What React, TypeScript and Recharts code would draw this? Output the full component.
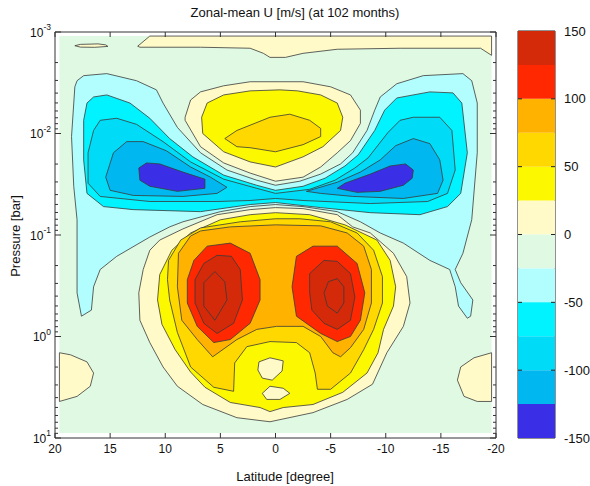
import React from "react";
import {
  ScatterChart,
  Scatter,
  XAxis,
  YAxis,
  BarChart,
  Bar,
  ReferenceArea,
} from "recharts";

const FONT = '"Liberation Sans", Arial, Helvetica, sans-serif';
const INK = "#333";

// axes: latitude in degrees, pressure as log10(bar)
const latTicks = [20, 15, 10, 5, 0, -5, -10, -15, -20];
const pressureDecades = [-3, -2, -1, 0, 1];
const minorSteps = [2, 3, 4, 5, 6, 7, 8, 9];
const colorTicks = [-150, -100, -50, 0, 50, 100, 150];

// contour bands: lower bound (m/s) -> fill
const bandLows = [-150, -125, -100, -75, -50, -25, 0, 25, 50, 75, 100, 125];
const bandColors = [
  "#3a2fe6", "#00b7ef", "#00dcf7", "#00f3ff", "#b2fefe", "#e0f9e2",
  "#fffac8", "#fcf800", "#ffd800", "#ffb300", "#ff2800", "#d42a0a",
];

// contour outlines, [latitude, log10 p]
const domainBox = [[19.6, -2.96], [-19.6, -2.96], [-19.6, 0.95], [19.6, 0.95]];
const topBand = [[12.5, -2.86], [11.4, -2.96], [-19.6, -2.96], [-19.6, -2.77], [-18.6, -2.84], [-11.3, -2.84], [-5.6, -2.83], [-2.5, -2.79], [-0.9, -2.75], [0.5, -2.75], [1.1, -2.79], [2.3, -2.84], [6.8, -2.85], [12.3, -2.85]];
const topIsland = [[18.2, -2.865], [17.7, -2.878], [16.1, -2.883], [15.4, -2.873], [15.2, -2.858], [16.4, -2.849], [17.7, -2.851]];

const upperPale = [[8.2, -2.16], [7.7, -2.33], [6.8, -2.41], [4.7, -2.47], [2.3, -2.51], [-0.4, -2.51], [-2.5, -2.51], [-5.0, -2.46], [-6.8, -2.38], [-7.7, -2.23], [-7.7, -2.1], [-6.8, -1.93], [-5.6, -1.81], [-4.1, -1.67], [-2.5, -1.57], [0.0, -1.53], [2.3, -1.61], [4.7, -1.71], [6.8, -1.87], [8.2, -2.13]];
const upperYellow = [[6.7, -2.16], [6.2, -2.3], [4.7, -2.38], [2.3, -2.42], [-0.4, -2.43], [-2.0, -2.42], [-4.1, -2.38], [-5.6, -2.3], [-6.1, -2.16], [-5.9, -2.03], [-4.3, -1.87], [-2.5, -1.77], [0.0, -1.67], [2.3, -1.72], [4.7, -1.82], [6.6, -2.0]];
const upperGold = [[4.6, -1.95], [3.5, -2.03], [0.5, -2.16], [-1.3, -2.19], [-3.1, -2.13], [-4.1, -2.05], [-4.1, -1.97], [-2.5, -1.89], [0.0, -1.82], [2.3, -1.86], [3.5, -1.87]];

const wingPale = [[18.0, -2.52], [17.4, -2.57], [15.3, -2.59], [12.6, -2.52], [10.8, -2.43], [10.2, -2.3], [8.9, -2.06], [6.8, -1.81], [4.4, -1.64], [1.7, -1.54], [0.0, -1.49], [-2.2, -1.53], [-4.1, -1.6], [-5.9, -1.7], [-7.0, -1.81], [-8.3, -2.03], [-9.0, -2.23], [-9.5, -2.36], [-11.0, -2.49], [-13.4, -2.57], [-17.0, -2.59], [-17.8, -2.52], [-18.3, -2.3], [-18.3, -1.81], [-17.8, -1.15], [-17.0, -0.82], [-16.3, -0.66], [-16.8, -0.53], [-17.9, -0.36], [-17.7, -0.2], [-17.4, -0.18], [-16.6, -0.3], [-16.3, -0.49], [-15.8, -0.66], [-14.0, -0.75], [-11.6, -0.92], [-9.5, -1.02], [-7.7, -1.13], [-5.6, -1.23], [-2.5, -1.28], [0.0, -1.3], [2.3, -1.28], [5.0, -1.23], [8.4, -1.13], [9.6, -1.08], [11.4, -0.98], [14.4, -0.79], [15.9, -0.66], [16.5, -0.49], [16.7, -0.26], [17.6, -0.2], [18.0, -0.43], [18.0, -1.15], [18.3, -1.48], [18.5, -1.97], [18.2, -2.46]];
const wingCyan = [[17.1, -2.3], [16.5, -2.36], [15.3, -2.38], [13.2, -2.3], [11.4, -2.15], [9.6, -1.95], [7.5, -1.77], [4.7, -1.59], [1.7, -1.49], [0.0, -1.44], [-2.5, -1.48], [-4.5, -1.56], [-6.3, -1.68], [-7.5, -1.79], [-9.0, -2.03], [-9.9, -2.23], [-11.0, -2.35], [-14.0, -2.41], [-16.1, -2.4], [-16.9, -2.3], [-17.4, -1.81], [-16.8, -1.41], [-15.6, -1.28], [-13.1, -1.2], [-8.6, -1.22], [-4.1, -1.27], [0.0, -1.32], [2.3, -1.3], [6.8, -1.23], [12.9, -1.25], [15.6, -1.28], [17.1, -1.41], [17.4, -1.74], [17.4, -2.13]];
const wingCyanDeep = [[16.5, -2.03], [15.9, -2.13], [14.4, -2.15], [12.6, -2.09], [10.2, -1.92], [7.7, -1.72], [4.7, -1.55], [1.7, -1.46], [0.0, -1.41], [-3.1, -1.45], [-5.4, -1.54], [-7.2, -1.66], [-8.4, -1.76], [-10.2, -2.01], [-11.3, -2.13], [-12.5, -2.16], [-14.9, -2.16], [-16.0, -2.03], [-16.3, -1.64], [-15.6, -1.41], [-13.8, -1.33], [-8.6, -1.31], [-2.5, -1.34], [0.0, -1.36], [2.3, -1.34], [5.3, -1.33], [11.4, -1.33], [15.9, -1.38], [17.0, -1.51], [17.0, -1.81]];
const blueLeft = [[15.4, -1.57], [14.7, -1.81], [13.5, -1.92], [12.0, -1.92], [9.9, -1.83], [7.7, -1.67], [5.9, -1.57], [4.4, -1.47], [5.3, -1.41], [8.4, -1.38], [12.9, -1.39], [15.0, -1.44]];
const blueRight = [[-2.8, -1.43], [-5.6, -1.52], [-7.7, -1.62], [-9.5, -1.74], [-10.9, -1.88], [-12.5, -1.95], [-14.0, -1.9], [-14.9, -1.74], [-15.2, -1.54], [-14.7, -1.41], [-11.6, -1.36], [-7.0, -1.38], [-4.1, -1.41]];
const coreLeft = [[12.4, -1.66], [11.7, -1.71], [10.5, -1.7], [8.4, -1.62], [6.4, -1.55], [6.4, -1.46], [8.9, -1.43], [11.4, -1.48], [12.3, -1.54]];
const coreRight = [[-5.6, -1.46], [-6.3, -1.51], [-8.6, -1.6], [-10.4, -1.68], [-11.8, -1.7], [-12.5, -1.64], [-12.4, -1.56], [-11.6, -1.49], [-9.5, -1.43], [-7.4, -1.42]];

const lowerPale = [[0.0, -1.27], [-2.5, -1.26], [-5.6, -1.2], [-7.0, -1.08], [-8.6, -1.02], [-10.7, -0.82], [-11.9, -0.59], [-12.2, -0.33], [-11.6, -0.1], [-10.1, 0.16], [-8.8, 0.47], [-6.5, 0.62], [-3.4, 0.75], [0.5, 0.84], [3.5, 0.8], [6.6, 0.67], [8.9, 0.49], [10.2, 0.3], [11.4, 0.06], [12.3, -0.16], [12.4, -0.43], [12.0, -0.66], [11.4, -0.85], [10.5, -0.95], [8.4, -1.06], [5.3, -1.2], [2.3, -1.25]];
const lowerYellow = [[0.0, -1.22], [-3.1, -1.2], [-6.3, -1.1], [-9.2, -0.95], [-10.4, -0.75], [-10.9, -0.49], [-10.7, -0.3], [-9.8, -0.07], [-9.3, 0.16], [-8.3, 0.36], [-6.1, 0.55], [-3.4, 0.67], [-0.7, 0.7], [0.5, 0.74], [1.4, 0.7], [4.1, 0.65], [6.4, 0.5], [7.7, 0.35], [9.1, 0.13], [10.3, -0.12], [10.7, -0.36], [10.5, -0.61], [9.4, -0.85], [7.7, -1.02], [5.0, -1.15], [2.3, -1.2]];
const lowerGold = [[0.0, -1.16], [-2.2, -1.16], [-5.0, -1.13], [-7.4, -1.02], [-8.9, -0.85], [-9.7, -0.59], [-9.7, -0.33], [-8.9, -0.07], [-8.0, 0.13], [-6.8, 0.36], [-5.0, 0.52], [-3.8, 0.52], [-3.6, 0.36], [-3.1, 0.16], [-1.9, 0.06], [0.5, 0.05], [2.6, 0.1], [3.7, 0.26], [3.8, 0.54], [5.6, 0.5], [7.7, 0.3], [8.9, -0.04], [9.6, -0.36], [9.8, -0.56], [9.7, -0.75], [8.6, -0.95], [6.8, -1.07], [3.2, -1.13]];
const lowerOrange = [[0.0, -1.1], [-4.1, -1.09], [-6.5, -1.02], [-8.0, -0.89], [-8.7, -0.66], [-8.7, -0.33], [-8.0, -0.07], [-6.8, 0.11], [-5.9, 0.2], [-5.2, 0.16], [-4.1, 0.0], [-2.5, -0.1], [-0.1, -0.1], [1.7, -0.07], [3.5, 0.03], [5.7, 0.2], [7.1, 0.03], [8.5, -0.16], [8.9, -0.49], [8.8, -0.82], [7.7, -0.99], [6.8, -1.04], [4.1, -1.08]];
const jetLeft = [[6.2, -0.89], [4.1, -0.92], [2.3, -0.82], [1.4, -0.56], [1.4, -0.36], [2.3, -0.13], [4.1, 0.03], [5.6, 0.06], [7.1, -0.1], [8.0, -0.33], [8.0, -0.56], [7.4, -0.75]];
const jetRight = [[-1.9, -0.79], [-3.4, -0.89], [-5.6, -0.89], [-7.4, -0.72], [-8.1, -0.43], [-7.7, -0.16], [-6.8, 0.0], [-5.6, 0.05], [-4.1, -0.03], [-1.9, -0.2], [-1.5, -0.49]];
const jetLeft125 = [[6.5, -0.72], [5.3, -0.8], [4.0, -0.79], [3.2, -0.66], [3.0, -0.36], [3.8, -0.13], [5.3, -0.03], [6.5, -0.13], [7.3, -0.33], [7.3, -0.56]];
const jetRight125 = [[-3.1, -0.62], [-4.4, -0.75], [-5.6, -0.74], [-6.8, -0.62], [-7.2, -0.39], [-6.8, -0.16], [-5.6, -0.07], [-4.4, -0.13], [-3.3, -0.26], [-3.1, -0.43]];
const jetLeft150 = [[5.5, -0.64], [4.6, -0.54], [4.4, -0.36], [5.5, -0.16], [6.5, -0.3], [6.5, -0.53]];
const jetRight150 = [[-4.8, -0.54], [-5.6, -0.57], [-6.2, -0.49], [-6.2, -0.33], [-5.6, -0.23], [-4.7, -0.3], [-4.4, -0.43]];
const dipUpper = [[1.5, 0.25], [0.5, 0.21], [-0.7, 0.24], [-0.6, 0.34], [0.3, 0.43], [1.2, 0.41], [1.6, 0.33]];
const dipLower = [[1.2, 0.56], [0.5, 0.49], [-0.7, 0.51], [-1.3, 0.56], [-0.4, 0.62], [0.8, 0.62]];
const cornerLeft = [[19.6, 0.16], [18.6, 0.18], [17.1, 0.25], [16.5, 0.36], [16.8, 0.49], [18.0, 0.59], [19.6, 0.64]];
const cornerRight = [[-19.6, 0.16], [-18.0, 0.21], [-16.8, 0.3], [-16.5, 0.43], [-17.1, 0.59], [-18.3, 0.64], [-19.6, 0.64]];

// painting order, lowest band first; level = band lower bound
const layers = [
  { pts: domainBox, level: -25, edge: false },
  { pts: topBand, level: 0 },
  { pts: topIsland, level: 0 },
  { pts: wingPale, level: -50 },
  { pts: wingCyan, level: -75 },
  { pts: wingCyanDeep, level: -100 },
  { pts: blueLeft, level: -125 },
  { pts: blueRight, level: -125 },
  { pts: coreLeft, level: -150 },
  { pts: coreRight, level: -150 },
  { pts: upperPale, level: 0 },
  { pts: upperYellow, level: 25 },
  { pts: upperGold, level: 50 },
  { pts: lowerPale, level: 0 },
  { pts: lowerYellow, level: 25 },
  { pts: lowerGold, level: 50 },
  { pts: lowerOrange, level: 75 },
  { pts: jetLeft, level: 100 },
  { pts: jetRight, level: 100 },
  { pts: jetLeft125, level: 125 },
  { pts: jetRight125, level: 125 },
  { pts: jetLeft150, level: 150 },
  { pts: jetRight150, level: 150 },
  { pts: dipUpper, level: 0 },
  { pts: dipLower, level: 0 },
  { pts: cornerLeft, level: 0 },
  { pts: cornerRight, level: 0 },
];

const colorOf = (level: number) => {
  const i = bandLows.indexOf(Math.min(level, 125));
  return bandColors[i < 0 ? 0 : i];
};
const rows = (pts: number[][]) => pts.map(([lat, lp]) => ({ lat, lp }));

const yTicks = [
  ...pressureDecades,
  ...pressureDecades.slice(0, -1).flatMap((d) => minorSteps.map((k) => d + Math.log10(k))),
];
const isMajor = (v: number) => Math.abs(v - Math.round(v)) < 1e-9;

// colour bar: one stacked column, positives up from 0, negatives down
const barOrder = [...bandLows.filter((b) => b >= 0), ...bandLows.filter((b) => b < 0).reverse()];
const barRow: Record<string, number | string> = { name: "U" };
barOrder.forEach((b) => {
  barRow["k" + b] = b >= 0 ? 25 : -25;
});

const noDot = () => <g />;

function PressureTick(props: any) {
  const { x, y, payload } = props;
  const v = payload.value as number;
  const major = isMajor(v);
  return (
    <g>
      <line x1={x} y1={y} x2={x + (major ? 6 : 3)} y2={y} stroke={INK} />
      {major && (
        <text x={x - 4} y={y + 4.5} textAnchor="end" fontSize={12} fontFamily={FONT} fill="#111">
          10
          <tspan dy={-6.5} fontSize={8.5}>
            {String(Math.round(v))}
          </tspan>
        </text>
      )}
    </g>
  );
}

function RightTick(props: any) {
  const { x, y, payload } = props;
  const major = isMajor(payload.value);
  return <line x1={x} y1={y} x2={x - (major ? 6 : 3)} y2={y} stroke={INK} />;
}

function LatTick(props: any) {
  const { x, y, payload } = props;
  return (
    <g>
      <line x1={x} y1={y} x2={x} y2={y - 5} stroke={INK} />
      <text x={x} y={y + 15.3} textAnchor="middle" fontSize={12} fontFamily={FONT} fill="#111">
        {String(payload.value)}
      </text>
    </g>
  );
}

function TopTick(props: any) {
  const { x, y } = props;
  return <line x1={x} y1={y} x2={x} y2={y + 5} stroke={INK} />;
}

function ColorTick(props: any) {
  const { x, y, payload } = props;
  const v = payload.value as number;
  const inner = Math.abs(v) < 150;
  return (
    <g>
      {inner && <line x1={x} y1={y} x2={x - 4} y2={y} stroke="#222" />}
      {inner && <line x1={x - 37} y1={y} x2={x - 33} y2={y} stroke="#222" />}
      <text x={x + 9} y={y + 4.5} textAnchor="start" fontSize={13} fontFamily={FONT} fill="#111">
        {String(v)}
      </text>
    </g>
  );
}

export default function App() {
  return (
    <div style={{ position: "absolute", left: 0, top: 0, width: 590, height: 486, background: "#fff" }}>
      <div style={{ position: "absolute", left: 0, top: 0 }}>
        <ScatterChart width={590} height={486} margin={{ top: 30, right: 90, bottom: 18, left: 10 }}>
          <XAxis
            xAxisId="b"
            type="number"
            dataKey="lat"
            domain={[-20, 20]}
            reversed
            allowDataOverflow
            ticks={latTicks}
            interval={0}
            height={30}
            tickSize={0}
            tickMargin={0}
            tickLine={false}
            axisLine={{ stroke: INK }}
            tick={LatTick}
          />
          <XAxis
            xAxisId="t"
            orientation="top"
            type="number"
            dataKey="lat"
            domain={[-20, 20]}
            reversed
            allowDataOverflow
            ticks={latTicks}
            interval={0}
            height={2}
            tickSize={0}
            tickMargin={0}
            tickLine={false}
            axisLine={{ stroke: INK }}
            tick={TopTick}
          />
          <YAxis
            yAxisId="l"
            type="number"
            dataKey="lp"
            domain={[-3, 1]}
            reversed
            allowDataOverflow
            ticks={yTicks}
            interval={0}
            width={45}
            tickSize={0}
            tickMargin={0}
            tickLine={false}
            axisLine={{ stroke: INK }}
            tick={PressureTick}
          />
          <YAxis
            yAxisId="r"
            orientation="right"
            type="number"
            dataKey="lp"
            domain={[-3, 1]}
            reversed
            allowDataOverflow
            ticks={yTicks}
            interval={0}
            width={4}
            tickSize={0}
            tickMargin={0}
            tickLine={false}
            axisLine={{ stroke: INK }}
            tick={RightTick}
          />
          {layers.map((l, i) => (
            <Scatter
              key={i}
              data={rows(l.pts)}
              xAxisId="b"
              yAxisId="l"
              isAnimationActive={false}
              shape={noDot}
              line={{
                fill: colorOf(l.level),
                stroke: l.edge === false ? "none" : "#3a3a3a",
                strokeWidth: 0.8,
                strokeLinejoin: "round",
              }}
              lineType="joint"
              lineJointType="linearClosed"
            />
          ))}
        </ScatterChart>
      </div>

      <div style={{ position: "absolute", left: 508, top: 0 }}>
        <BarChart
          width={82}
          height={486}
          data={[barRow]}
          margin={{ top: 31, right: 0, bottom: 48, left: 10 }}
          stackOffset="sign"
          barCategoryGap={0}
        >
          <XAxis dataKey="name" hide />
          <YAxis
            orientation="right"
            type="number"
            domain={[-150, 150]}
            ticks={colorTicks}
            interval={0}
            width={35}
            tickSize={0}
            tickMargin={0}
            tickLine={false}
            axisLine={false}
            tick={ColorTick}
          />
          {barOrder.map((b) => (
            <Bar
              key={b}
              dataKey={"k" + b}
              stackId="cb"
              fill={colorOf(b)}
              isAnimationActive={false}
            />
          ))}
          <ReferenceArea y1={-150} y2={150} fill="none" stroke="#222" strokeWidth={1} ifOverflow="visible" />
        </BarChart>
      </div>

      <svg
        width={590}
        height={486}
        style={{ position: "absolute", left: 0, top: 0, pointerEvents: "none" }}
      >
        <text x={295} y={17} textAnchor="middle" fontSize={13} fontFamily={FONT} fill="#111">
          Zonal-mean U [m/s] (at 102 months)
        </text>
        <text x={285} y={481} textAnchor="middle" fontSize={13} fontFamily={FONT} fill="#111">
          Latitude [degree]
        </text>
        <text
          x={20}
          y={236}
          textAnchor="middle"
          fontSize={13}
          fontFamily={FONT}
          fill="#111"
          transform="rotate(-90 20 236)"
        >
          Pressure [bar]
        </text>
      </svg>
    </div>
  );
}
